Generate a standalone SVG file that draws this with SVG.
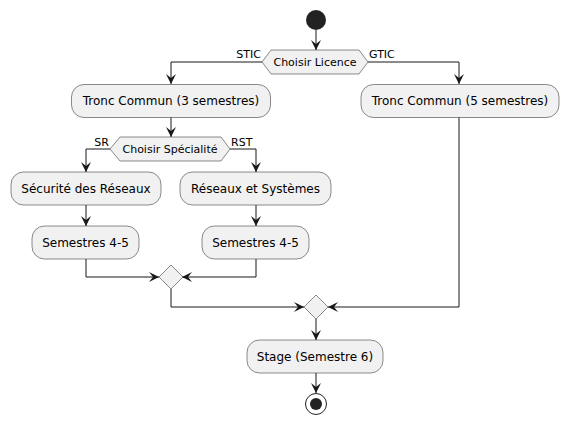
<svg xmlns="http://www.w3.org/2000/svg" width="569" height="425" viewBox="0 0 569 425">
<style>
.box{fill:#F1F1F1;stroke:#181818;stroke-width:0.5}
.dec{fill:#F1F1F1;stroke:#181818;stroke-width:0.5}
.t{font-family:"DejaVu Sans",sans-serif;font-size:12px;fill:#000;text-anchor:middle}
.s{font-family:"DejaVu Sans",sans-serif;font-size:11px;fill:#000}
.c{fill:none;stroke:#181818;stroke-width:1;marker-end:url(#ah)}
</style>
<defs>
<marker id="ah" markerUnits="userSpaceOnUse" markerWidth="12" markerHeight="12" viewBox="-11 -6 12 12" refX="0" refY="0" orient="auto" overflow="visible">
<path d="M-10,-5 L0,0 L-10,5 L-6,0 Z" fill="#181818"/>
</marker>
</defs>
<rect width="569" height="425" fill="#FFFFFF"/>
<g id="connectors">
<path class="c" d="M316,30 L316,50"/>
<path class="c" d="M262,62 L171,62 L171,84"/>
<path class="c" d="M368,62 L459,62 L459,84"/>
<path class="c" d="M171,117 L171,137"/>
<path class="c" d="M110,149 L86,149 L86,172"/>
<path class="c" d="M230,149 L256,149 L256,172"/>
<path class="c" d="M86,205 L86,226"/>
<path class="c" d="M256,205 L256,226"/>
<path class="c" d="M86,259 L86,277 L159,277"/>
<path class="c" d="M256,259 L256,277 L182,277"/>
<path class="c" d="M171,289 L171,307 L304,307"/>
<path class="c" d="M459,117 L459,307 L328,307"/>
<path class="c" d="M316,319 L316,340"/>
<path class="c" d="M316,373 L316,393"/>
<text class="s" x="261" y="58" text-anchor="end">STIC</text>
<text class="s" x="369" y="58">GTIC</text>
<text class="s" x="109" y="146" text-anchor="end">SR</text>
<text class="s" x="231" y="146">RST</text>
</g>
<g id="start"><circle cx="316" cy="20" r="10" fill="#222222"/></g>
<g id="choisirLicence">
<polygon class="dec" points="262,62 271,50 359,50 368,62 359,74 271,74"/>
<text class="s" x="315" y="66" text-anchor="middle">Choisir Licence</text>
</g>
<g id="tronc3">
<rect class="box" x="71.5" y="84.5" width="199" height="33" rx="12.5"/>
<text class="t" x="171" y="105">Tronc Commun (3 semestres)</text>
</g>
<g id="tronc5">
<rect class="box" x="361" y="84.5" width="198" height="33" rx="12.5"/>
<text class="t" x="460" y="105">Tronc Commun (5 semestres)</text>
</g>
<g id="choisirSpecialite">
<polygon class="dec" points="110,149 120,137 221,137 230,149 221,161 120,161"/>
<text class="s" x="170" y="153" text-anchor="middle">Choisir Spécialité</text>
</g>
<g id="securite">
<rect class="box" x="11" y="172" width="150" height="33" rx="12.5"/>
<text class="t" x="86" y="193">Sécurité des Réseaux</text>
</g>
<g id="reseaux">
<rect class="box" x="180" y="172" width="151" height="33" rx="12.5"/>
<text class="t" x="255.5" y="193">Réseaux et Systèmes</text>
</g>
<g id="sem45a">
<rect class="box" x="32" y="226" width="107" height="33" rx="12.5"/>
<text class="t" x="85.5" y="247">Semestres 4-5</text>
</g>
<g id="sem45b">
<rect class="box" x="202" y="226" width="107" height="33" rx="12.5"/>
<text class="t" x="255.5" y="247">Semestres 4-5</text>
</g>
<g id="merge1"><polygon class="dec" points="171,265 183,277 171,289 159,277"/></g>
<g id="merge2"><polygon class="dec" points="316,295 328,307 316,319 304,307"/></g>
<g id="stage">
<rect class="box" x="247" y="340" width="136" height="33" rx="12.5"/>
<text class="t" x="315" y="361">Stage (Semestre 6)</text>
</g>
<g id="end">
<circle cx="316" cy="404" r="10.5" fill="none" stroke="#222222" stroke-width="1"/>
<circle cx="316" cy="404" r="6" fill="#222222"/>
</g>
</svg>
